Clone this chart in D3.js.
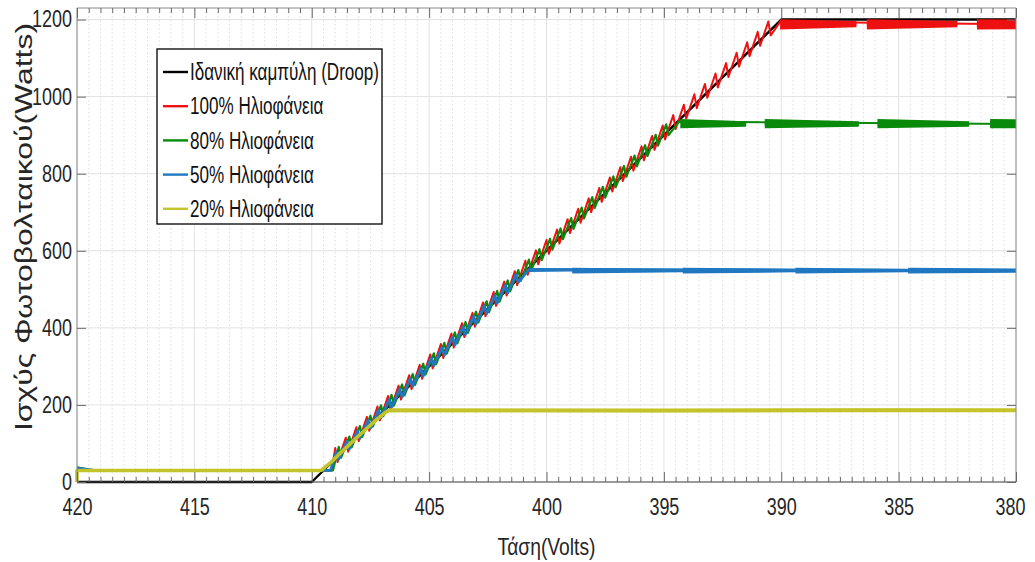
<!DOCTYPE html>
<html><head><meta charset="utf-8">
<script src="https://cdn.jsdelivr.net/npm/d3@7"></script>
<style>
body{margin:0;background:#fff}
text{font-family:"Liberation Sans",Arial,sans-serif}
</style>
</head><body>
<svg id="c" width="1035" height="562"></svg>
<script>
// ---------- data ----------
const xTickLabels = [420,415,410,405,400,395,390,385,380];
const yTickLabels = [0,200,400,600,800,1000,1200];
const seriesNames = ["Ιδανική καμπύλη (Droop)","100% Ηλιοφάνεια","80% Ηλιοφάνεια","50% Ηλιοφάνεια","20% Ηλιοφάνεια"];
const seriesColors = ["#000000","#ee1111","#0a8a0a","#1f78c0","#c4c42a"];
const xLabel = "Τάση(Volts)";
const yLabel = "Ισχύς Φωτοβολταικού(Watts)";

// [Volts, Watts]
const ideal = [[420,0],[410,0],[390,1200],[380,1200]];

const sun100 = [[420,31],[409.15,30],
 [409.00,88],[408.90,52],[408.55,115],[408.45,79],[408.10,142],[408.00,106],[407.65,169],[407.55,133],
 [407.20,196],[407.10,160],[406.75,223],[406.65,187],[406.30,250],[406.20,214],[405.85,277],[405.75,241],
 [405.40,304],[405.30,268],[404.95,331],[404.85,295],[404.50,358],[404.40,322],[404.05,385],[403.95,349],
 [403.60,412],[403.50,376],[403.15,439],[403.05,403],[402.70,466],[402.60,430],[402.25,493],[402.15,457],
 [401.80,520],[401.70,484],[401.35,547],[401.25,511],[400.90,574],[400.80,538],[400.45,601],[400.35,565],
 [400.00,628],[399.90,592],[399.55,655],[399.45,619],[399.10,682],[399.00,646],[398.65,709],[398.55,673],
 [398.20,736],[398.10,700],[397.75,763],[397.65,727],[397.30,790],[397.20,754],[396.85,817],[396.75,781],
 [396.40,844],[396.30,808],[395.95,871],[395.85,835],[395.50,898],[395.40,862],[395.05,925],[394.95,889],
 [394.60,952],[394.50,916],[394.15,979],[394.05,943],[393.70,1006],[393.60,970],[393.25,1033],[393.15,997],
 [392.80,1060],[392.70,1024],[392.35,1087],[392.25,1051],[391.90,1114],[391.80,1078],[391.45,1141],[391.35,1105],
 [391.00,1168],[390.90,1132],[390.55,1195],[390.45,1159],[390.05,1194],[380,1188]];

const sun80 = [[420,38],[419.4,31],[409.1,30],
 [408.85,91],[408.75,63],[408.40,118],[408.30,90],[407.95,145],[407.85,117],[407.50,172],[407.40,144],
 [407.05,199],[406.95,171],[406.60,226],[406.50,198],[406.15,253],[406.05,225],[405.70,280],[405.60,252],
 [405.25,307],[405.15,279],[404.80,334],[404.70,306],[404.35,361],[404.25,333],[403.90,388],[403.80,360],
 [403.45,415],[403.35,387],[403.00,442],[402.90,414],[402.55,469],[402.45,441],[402.10,496],[402.00,468],
 [401.65,523],[401.55,495],[401.20,550],[401.10,522],[400.75,577],[400.65,549],[400.30,604],[400.20,576],
 [399.85,631],[399.75,603],[399.40,658],[399.30,630],[398.95,685],[398.85,657],[398.50,712],[398.40,684],
 [398.05,739],[397.95,711],[397.60,766],[397.50,738],[397.15,793],[397.05,765],[396.70,820],[396.60,792],
 [396.25,847],[396.15,819],[395.80,874],[395.70,846],[395.35,901],[395.25,873],[394.90,928],[394.80,900],
 [394.35,935],[380,929]];

const sun50 = [[420,36],[419.3,31],[409.2,30],
 [408.95,79],[408.85,59],[408.50,106],[408.40,86],[408.05,133],[407.95,113],[407.60,160],[407.50,140],
 [407.15,187],[407.05,167],[406.70,214],[406.60,194],[406.25,241],[406.15,221],[405.80,268],[405.70,248],
 [405.35,295],[405.25,275],[404.90,322],[404.80,302],[404.45,349],[404.35,329],[404.00,376],[403.90,356],
 [403.55,403],[403.45,383],[403.10,430],[403.00,410],[402.65,457],[402.55,437],[402.20,484],[402.10,464],
 [401.75,511],[401.65,491],[401.30,538],[401.20,518],[400.75,552],[380,549]];

const sun20 = [[420,0],[420,30],[409.6,30],[409.2,50],[408.8,74],[408.4,97],[408.0,120],[407.6,142],
 [407.2,164],[406.9,179],[406.7,186],[395,185],[385,187],[380,186]];

// plateau ripple envelopes: [Volts, upper, lower]
const band100 = [[390.05,1201,1174],[386.80,1196,1180],[386.79,1188,1188],[386.36,1188,1188],
 [386.35,1201,1174],[382.50,1196,1180],[382.49,1188,1188],[381.67,1188,1188],[381.66,1201,1174],[380,1200,1175]];
const band80 = [[394.30,942,918],[391.50,936,922],[391.49,929,929],[390.71,929,929],[390.70,942,918],
 [386.70,936,922],[386.69,929,929],[385.91,929,929],[385.90,942,918],[382.00,936,922],[381.99,929,929],
 [381.11,929,929],[381.10,942,918],[380,941,918]];
const band50 = [[400.75,553,545],[398.91,552,546],[398.90,556,541],[394.20,553,544],[394.19,556,541],
 [389.40,553,544],[389.39,556,541],[384.60,553,544],[384.59,556,541],[380,554,543]];
const band20 = [[406.7,191,181],[380,191,181]];

// ---------- chart ----------
const svg = d3.select("#c");
const L = 77, R = 1016, T = 8, B = 482;
const x = d3.scaleLinear().domain([420,380]).range([L,R]);
const y = d3.scaleLinear().domain([0,1230]).range([B,T]);

// squeeze text horizontally to imitate a narrow face
function narrow(sel, factor) {
  sel.each(function() {
    const w = this.getComputedTextLength();
    d3.select(this).attr("textLength", w*factor).attr("lengthAdjust","spacingAndGlyphs");
  });
}

svg.append("rect").attr("width",1035).attr("height",562).attr("fill","#fff");

// grid
const g = svg.append("g");
g.selectAll(".vmin").data(x.ticks(80).filter(v => v % 5 !== 0)).join("line")
  .attr("x1",d=>x(d)).attr("x2",d=>x(d)).attr("y1",T).attr("y2",B)
  .attr("stroke","#d6d6d6").attr("stroke-width",0.8).attr("stroke-dasharray","1.5,2.5");
g.selectAll(".vmaj").data(xTickLabels).join("line")
  .attr("x1",d=>x(d)).attr("x2",d=>x(d)).attr("y1",T).attr("y2",B)
  .attr("stroke","#e2e2e2").attr("stroke-width",1);
g.selectAll(".hmaj").data(yTickLabels).join("line")
  .attr("x1",L).attr("x2",R).attr("y1",d=>y(d)).attr("y2",d=>y(d))
  .attr("stroke","#e2e2e2").attr("stroke-width",1);

// series
const line = d3.line().x(d=>x(d[0])).y(d=>y(d[1]));
const area = d3.area().x(d=>x(d[0])).y0(d=>y(d[2])).y1(d=>y(d[1]));
const plot = svg.append("g");
const seriesData = [ideal, sun100, sun80, sun50, sun20];
const bands = [null, band100, band80, band50, band20];
const widths = [2.4, 2, 2.2, 2.8, 3.6];
seriesData.forEach((s,i) => {
  if (bands[i]) plot.append("path").attr("d", area(bands[i])).attr("fill", seriesColors[i]);
  plot.append("path").attr("d", line(s)).attr("fill","none")
    .attr("stroke", seriesColors[i]).attr("stroke-width", widths[i]).attr("stroke-linejoin","round");
});

// frame
svg.append("line").attr("x1",L).attr("x2",R).attr("y1",T).attr("y2",T).attr("stroke","#8a8a8a");
svg.append("line").attr("x1",L).attr("x2",L).attr("y1",T).attr("y2",B).attr("stroke","#8a8a8a");
svg.append("line").attr("x1",R).attr("x2",R).attr("y1",T).attr("y2",B).attr("stroke","#8a8a8a");
svg.append("line").attr("x1",L).attr("x2",R).attr("y1",B).attr("y2",B).attr("stroke","#444");

// axes
const styleAxis = sel => { sel.select(".domain").remove(); sel.selectAll("line").attr("stroke","#6a6a6a"); };
const minorX = x.ticks(80).filter(v => v % 5 !== 0);
svg.append("g").attr("transform",`translate(0,${B})`)
  .call(d3.axisBottom(x).tickValues(minorX).tickSize(-5).tickFormat("")).call(styleAxis);
svg.append("g").attr("transform",`translate(0,${T})`)
  .call(d3.axisTop(x).tickValues(minorX).tickSize(-5).tickFormat("")).call(styleAxis);
svg.append("g").attr("transform",`translate(0,${T})`)
  .call(d3.axisTop(x).tickValues(xTickLabels).tickSize(-10).tickFormat("")).call(styleAxis);
const xa = svg.append("g").attr("transform",`translate(0,${B})`)
  .call(d3.axisBottom(x).tickValues(xTickLabels).tickSize(-10).tickPadding(17).tickFormat(d3.format("d")))
  .call(styleAxis);
xa.selectAll("text").attr("font-size",23).attr("fill","#262626")
  .attr("font-family",'"Liberation Sans",Arial,sans-serif').call(narrow, 0.78);
xa.selectAll("text").filter(d => d === 380).attr("text-anchor","end").attr("x",9);
const ya = svg.append("g").attr("transform",`translate(${L},0)`)
  .call(d3.axisLeft(y).tickValues(yTickLabels).tickSize(-9).tickPadding(5).tickFormat(d3.format("d")))
  .call(styleAxis);
ya.selectAll("text").attr("font-size",23).attr("fill","#262626")
  .attr("font-family",'"Liberation Sans",Arial,sans-serif').call(narrow, 0.78);
svg.append("g").attr("transform",`translate(${R},0)`)
  .call(d3.axisRight(y).tickValues(yTickLabels).tickSize(-9).tickFormat("")).call(styleAxis);

// axis labels
svg.append("text").attr("x",(L+R)/2).attr("y",555).attr("text-anchor","middle")
  .attr("font-size",24).attr("fill","#262626")
  .attr("textLength",98).attr("lengthAdjust","spacingAndGlyphs").text(xLabel);
svg.append("text").attr("transform","translate(32,227) rotate(-90)").attr("text-anchor","middle")
  .attr("font-size",24).attr("fill","#262626")
  .attr("textLength",408).attr("lengthAdjust","spacingAndGlyphs").text(yLabel);

// legend
const lg = svg.append("g");
lg.append("rect").attr("x",157).attr("y",49).attr("width",225).attr("height",175)
  .attr("fill","#fff").attr("stroke","#000").attr("stroke-width",1.3);
const legTexts = [];
seriesNames.forEach((n,i) => {
  const yy = 72 + i*34.2;
  lg.append("line").attr("x1",163).attr("x2",188).attr("y1",yy).attr("y2",yy)
    .attr("stroke",seriesColors[i]).attr("stroke-width",2.4);
  legTexts.push(lg.append("text").attr("x",190).attr("y",yy).attr("dy","0.36em").attr("font-size",23)
    .attr("fill","#111").text(n));
});
const k = 189 / legTexts[0].node().getComputedTextLength();
legTexts.forEach(t => t.call(narrow, k));
</script>
</body></html>
